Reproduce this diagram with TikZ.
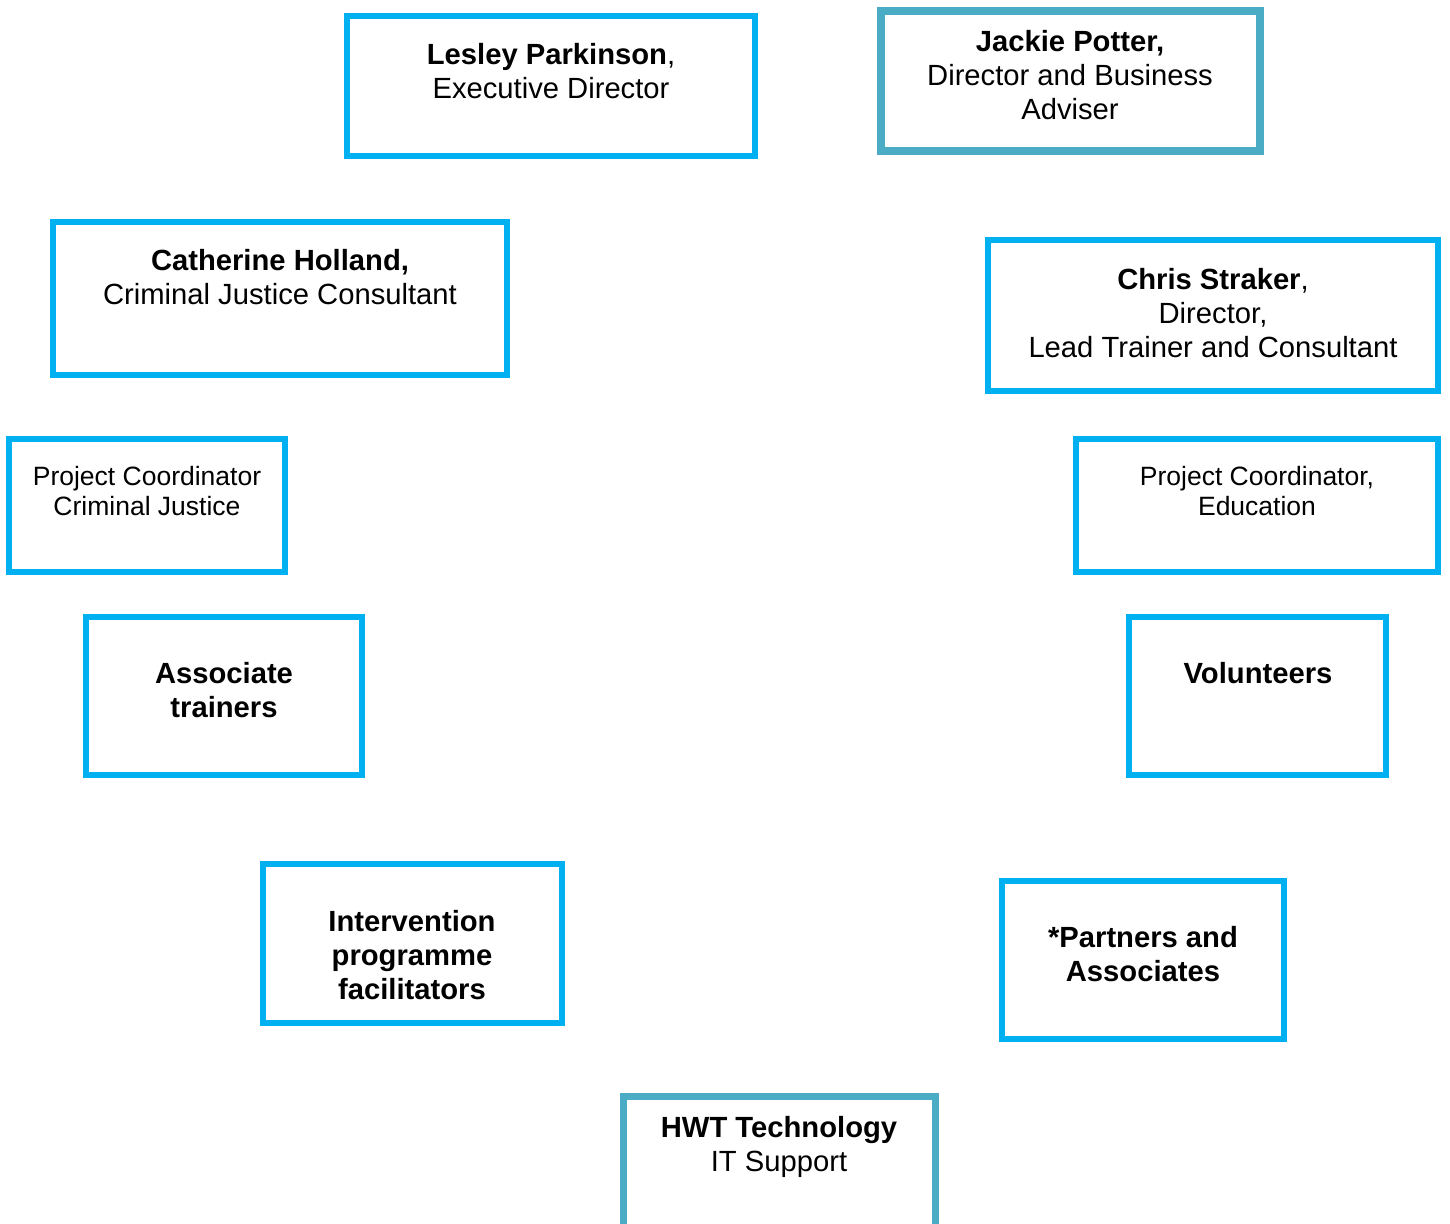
\documentclass[tikz,border=0pt]{standalone}
\usepackage{fontspec}
\setmainfont{Liberation Sans}
\definecolor{bcyan}{HTML}{00B0F0}
\definecolor{bteal}{HTML}{4BACC6}
\tikzset{
  box/.style={draw=bcyan, line width=5.5pt, fill=white, inner sep=0pt, outer sep=0pt},
  tbox/.style={box, draw=bteal, line width=8pt},
  hbox/.style={box, draw=bteal, line width=6.5pt},
  big/.style={align=center, inner sep=0pt, font=\fontsize{29.2}{34}\selectfont},
  small/.style={align=center, inner sep=0pt, font=\fontsize{26.5}{30}\selectfont},
}
\begin{document}
\begin{tikzpicture}[x=1pt,y=-1pt]
\useasboundingbox[fill=white] (0,0) rectangle (1450,1223);
% boxes
\node[box,  minimum width=408, minimum height=140] (lesley) at (551,86) {};
\node[tbox, minimum width=379, minimum height=139] (jackie) at (1070,81) {};
\node[box,  minimum width=454, minimum height=153] (catherine) at (280,298.5) {};
\node[box,  minimum width=450, minimum height=151] (chris) at (1213,315.5) {};
\node[box,  minimum width=276, minimum height=133] (pccj) at (147,505.5) {};
\node[box,  minimum width=362, minimum height=133] (pced) at (1257,505.5) {};
\node[box,  minimum width=276, minimum height=158] (assoc) at (224,696) {};
\node[box,  minimum width=257, minimum height=158] (vol) at (1257.5,696) {};
\node[box,  minimum width=299, minimum height=159] (interv) at (412.5,943.5) {};
\node[box,  minimum width=282, minimum height=158] (partners) at (1143,960) {};
\node[hbox, minimum width=312, minimum height=160] (hwt) at (779.5,1176.5) {};
% texts
\node[big] (lesleyT) at (551,71) {\textbf{Lesley Parkinson}, \\ Executive Director};
\node[big] (jackieT) at (1070,75.5) {\textbf{Jackie Potter,} \\ Director and Business \\ Adviser};
\node[big] (catherineT) at (280,277) {\textbf{Catherine Holland,} \\ Criminal Justice Consultant};
\node[big] (chrisT) at (1213,313.5) {\textbf{Chris Straker}, \\ Director, \\ Lead Trainer and Consultant};
\node[small] (pccjT) at (147,491) {Project Coordinator \\ Criminal Justice};
\node[small] (pcedT) at (1257,491) {Project Coordinator, \\ Education};
\node[big] (assocT) at (224,690) {\textbf{Associate} \\ \textbf{trainers}};
\node[big] (volT) at (1258,673) {\textbf{Volunteers}};
\node[big] (intervT) at (412,955) {\textbf{Intervention} \\ \textbf{programme} \\ \textbf{facilitators}};
\node[big] (partnersT) at (1143,954) {\textbf{*Partners and} \\ \textbf{Associates}};
\node[big] (hwtT) at (779,1147) {\textbf{HWT Technology} \\ IT Support};
\end{tikzpicture}
\end{document}
